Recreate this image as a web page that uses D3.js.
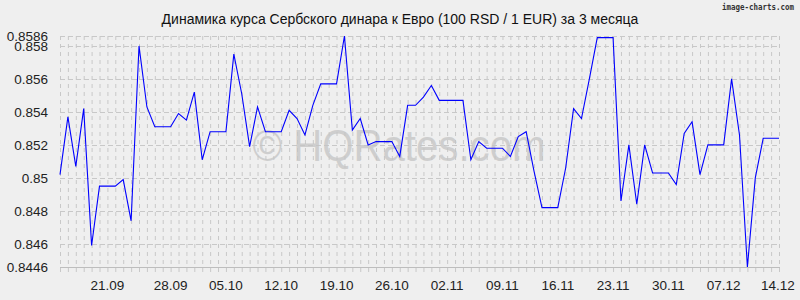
<!DOCTYPE html>
<html><head><meta charset="utf-8">
<script src="https://cdn.jsdelivr.net/npm/d3@7"></script>
<style>html,body{margin:0;padding:0;background:#efefef;}svg{display:block;font-family:"Liberation Sans",Arial,sans-serif;}</style>
</head><body><svg id="c" width="800" height="300"></svg>
<script>
const title = "Динамика курса Сербского динара к Евро (100 RSD / 1 EUR) за 3 месяца";
const values = [0.8502,0.8537,0.8507,0.8542,0.8459,0.8495,0.8495,0.8495,0.8499,0.8474,
0.8580,0.8543,0.8531,0.8531,0.8531,0.8539,0.8535,0.8552,0.8511,0.8528,
0.8528,0.8528,0.8575,0.8551,0.8519,0.8543,0.8528,0.8528,0.8528,0.8541,
0.8536,0.8526,0.8544,0.8557,0.8557,0.8557,0.8586,0.8529,0.8536,0.8520,
0.8522,0.8522,0.8522,0.8513,0.8544,0.8544,0.8549,0.8556,0.8547,0.8547,
0.8547,0.8547,0.8511,0.8522,0.8518,0.8518,0.8518,0.8513,0.8525,0.8528,
0.8504,0.8482,0.8482,0.8482,0.8506,0.8542,0.8536,0.8560,0.8585,0.8585,
0.8585,0.8486,0.8520,0.8484,0.8520,0.8503,0.8503,0.8503,0.8496,0.8527,
0.8534,0.8502,0.8520,0.8520,0.8520,0.8560,0.8526,0.8446,0.8500,0.8524,
0.8524,0.8524];
const xTickIdx = [6,14,21,28,35,42,49,56,63,70,77,84,91];
const xTickLabels = ["21.09","28.09","05.10","12.10","19.10","26.10","02.11","09.11","16.11","23.11","30.11","07.12","14.12"];
const yTicks = [0.8446,0.846,0.848,0.85,0.852,0.854,0.856,0.858,0.8586];
const yTickLabels = ["0.8446","0.846","0.848","0.85","0.852","0.854","0.856","0.858","0.8586"];

const svg = d3.select("#c");
const L = 60, R = 779, T = 36, B = 267;
const x = d3.scaleLinear().domain([0, values.length - 1]).range([L, R]);
const y = d3.scaleLinear().domain([0.8446, 0.8586]).range([B, T]);

// vertical grid (daily) + tick marks
svg.append("g").selectAll("line").data(d3.range(values.length)).join("line")
  .attr("x1", d => x(d) + 0.5).attr("x2", d => x(d) + 0.5)
  .attr("y1", T).attr("y2", B + 6)
  .attr("stroke", "#c8c8c8").attr("stroke-width", 1).attr("stroke-dasharray", "4,4");

// horizontal grid
svg.append("g").selectAll("line").data(yTicks).join("line")
  .attr("x1", L).attr("x2", R + 1)
  .attr("y1", d => Math.round(y(d)) + 0.5).attr("y2", d => Math.round(y(d)) + 0.5)
  .attr("stroke", d => d === 0.8446 ? "#bdbdbd" : "#c8c8c8")
  .attr("stroke-dasharray", d => d === 0.8446 ? null : "5,3");

// y labels
svg.append("g").selectAll("text").data(yTicks).join("text")
  .attr("x", 48).attr("y", d => y(d)).attr("dy", "0.36em")
  .attr("text-anchor", "end").attr("font-size", 13.5).attr("fill", "#222")
  .text((d, i) => yTickLabels[i]);

// x labels
svg.append("g").selectAll("text").data(xTickIdx).join("text")
  .attr("x", d => Math.min(x(d), 778)).attr("y", 290)
  .attr("text-anchor", "middle").attr("font-size", 13.5).attr("fill", "#222")
  .text((d, i) => xTickLabels[i]);

// watermark
svg.append("text").attr("x", 399).attr("y", 161).attr("text-anchor", "middle")
  .attr("font-size", 44).attr("fill", "#c4c4c4").attr("fill-opacity", 0.75)
  .attr("textLength", 293).attr("lengthAdjust", "spacingAndGlyphs")
  .text("© HQRates.com");

// line
svg.append("path").datum(values)
  .attr("d", d3.line().x((d, i) => x(i)).y(d => y(d)))
  .attr("fill", "none").attr("stroke", "#0000ff").attr("stroke-width", 1.1);

// title
svg.append("text").attr("x", 400).attr("y", 24).attr("text-anchor", "middle")
  .attr("font-size", 14).attr("fill", "#111").text(title);

svg.append("text").attr("x", 794).attr("y", 10).attr("text-anchor", "end")
  .attr("font-size", 9).attr("font-family", "DejaVu Sans Mono").attr("font-weight", "bold")
  .attr("fill", "#333").attr("textLength", 72).attr("lengthAdjust", "spacingAndGlyphs")
  .text("image-charts.com");
</script></body></html>
